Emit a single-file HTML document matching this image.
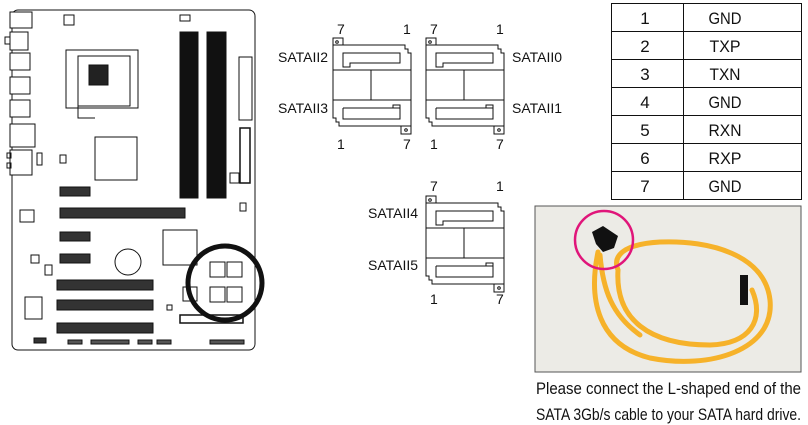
<!DOCTYPE html>
<html><head><meta charset="utf-8"><style>
html,body{margin:0;padding:0;background:#fff;width:808px;height:425px;overflow:hidden}
svg{display:block}
text{font-family:"Liberation Sans",sans-serif;fill:#111}
</style></head><body>
<svg width="808" height="425" viewBox="0 0 808 425" xmlns="http://www.w3.org/2000/svg">
<defs>
<g id="conn" fill="none" stroke="#111" stroke-width="1">
  <rect x="0" y="0" width="10" height="8" fill="#fff"/>
  <circle cx="4" cy="4" r="1.3"/>
  <path d="M0 7 H72 V11 H75 V15 H78 V32 H0 Z" fill="#fff"/>
  <path d="M10 15 H67 V25 H17 V29 H10 Z"/>
  <path d="M0 32 V62 M78 32 V62 M38 32 V62"/>
  <path d="M0 62 H78 V88 H6 V84 H3 V80 H0 Z" fill="#fff"/>
  <path d="M10 70 H67 V67 H60 V70 M10 70 V81 H67 V67"/>
  <rect x="68" y="88" width="10" height="8" fill="#fff"/>
  <circle cx="73" cy="92" r="1.3"/>
</g>
</defs>

<g fill="none" stroke="#111" stroke-width="1">
  <rect x="12" y="10" width="243" height="340" rx="6"/>
  <rect x="10" y="12" width="22" height="16" fill="#fff"/>
  <rect x="10" y="32" width="18" height="18" fill="#fff"/><rect x="5" y="37" width="5" height="7"/>
  <rect x="10" y="53" width="20" height="17" fill="#fff"/>
  <rect x="10" y="77" width="20" height="17" fill="#fff"/>
  <rect x="10" y="100" width="20" height="17" fill="#fff"/>
  <rect x="10" y="124" width="25" height="23" fill="#fff"/>
  <rect x="10" y="150" width="22" height="25" fill="#fff"/>
  <rect x="7" y="153" width="4" height="5"/><rect x="7" y="163" width="4" height="5"/>
  <rect x="37" y="153" width="5" height="12"/>
  <rect x="64" y="15" width="10" height="10"/>
  <rect x="180" y="15" width="10" height="6"/>
  <rect x="66" y="50" width="72" height="58"/>
  <rect x="78" y="56" width="52" height="50"/>
  <rect x="89" y="65" width="19" height="20" fill="#222"/>
  <path d="M78 106 V118 H95"/>
  <rect x="180" y="32" width="18" height="166" fill="#111"/>
  <rect x="207" y="32" width="19" height="166" fill="#111"/>
  <rect x="239" y="57" width="13" height="63"/>
  <rect x="240" y="128" width="10" height="55" stroke-width="1.5"/>
  <rect x="230" y="173" width="9" height="10"/>
  <rect x="240" y="203" width="6" height="8"/>
  <rect x="95" y="137" width="42" height="43"/>
  <rect x="60" y="155" width="6" height="8"/>
  <rect x="60" y="187" width="30" height="9" fill="#333"/>
  <rect x="60" y="208" width="125" height="10" fill="#333"/>
  <rect x="60" y="232" width="30" height="9" fill="#333"/>
  <rect x="60" y="254" width="30" height="9" fill="#333"/>
  <rect x="20" y="210" width="14" height="12"/>
  <rect x="31" y="255" width="8" height="8"/>
  <rect x="45" y="265" width="7" height="10"/>
  <circle cx="128" cy="262" r="13"/>
  <rect x="163" y="230" width="34" height="35"/>
  <rect x="183" y="287" width="14" height="14"/>
  <rect x="57" y="280" width="96" height="10" fill="#333"/>
  <rect x="57" y="300" width="96" height="10" fill="#333"/>
  <rect x="57" y="323" width="96" height="10" fill="#333"/>
  <rect x="25" y="297" width="17" height="22"/>
  <rect x="167" y="305" width="5" height="5"/>
  <rect x="180" y="315" width="63" height="8" stroke-width="1.5"/>
  <rect x="34" y="338" width="12" height="5" fill="#333"/>
  <rect x="68" y="340" width="14" height="4" fill="#555"/>
  <rect x="91" y="340" width="38" height="4" fill="#555"/>
  <rect x="138" y="340" width="14" height="4" fill="#555"/>
  <rect x="157" y="340" width="14" height="4" fill="#555"/>
  <rect x="210" y="340" width="34" height="4" fill="#555"/>
  <rect x="210" y="262" width="15" height="15"/><rect x="227" y="262" width="15" height="15"/>
  <rect x="210" y="287" width="15" height="15"/><rect x="227" y="287" width="15" height="15"/>
  <circle cx="225" cy="283" r="37" stroke-width="5"/>
</g>

<use href="#conn" x="333" y="38"/>
<use href="#conn" x="426" y="38"/>
<use href="#conn" x="426" y="196"/>
<g font-size="14">
  <text x="337" y="34">7</text><text x="403" y="34">1</text>
  <text x="430" y="34">7</text><text x="496" y="34">1</text>
  <text x="278" y="62" textLength="50" lengthAdjust="spacingAndGlyphs">SATAII2</text><text x="512" y="62" textLength="50" lengthAdjust="spacingAndGlyphs">SATAII0</text>
  <text x="278" y="113" textLength="50" lengthAdjust="spacingAndGlyphs">SATAII3</text><text x="512" y="113" textLength="50" lengthAdjust="spacingAndGlyphs">SATAII1</text>
  <text x="337" y="149">1</text><text x="403" y="149">7</text>
  <text x="430" y="149">1</text><text x="496" y="149">7</text>
  <text x="430" y="191">7</text><text x="496" y="191">1</text>
  <text x="368" y="218" textLength="50" lengthAdjust="spacingAndGlyphs">SATAII4</text>
  <text x="368" y="270" textLength="50" lengthAdjust="spacingAndGlyphs">SATAII5</text>
  <text x="430" y="304">1</text><text x="496" y="304">7</text>
</g>

<g fill="none" stroke="#111" stroke-width="1">
  <rect x="611.5" y="3.5" width="190" height="196"/>
  <path d="M683.5 3.5 V199.5 M611.5 31.5 H801.5 M611.5 59.5 H801.5 M611.5 87.5 H801.5 M611.5 115.5 H801.5 M611.5 143.5 H801.5 M611.5 171.5 H801.5"/>
</g>
<g font-size="17" text-anchor="middle">
  <text x="645" y="24">1</text><text x="725" y="24" textLength="33" lengthAdjust="spacingAndGlyphs">GND</text>
  <text x="645" y="52">2</text><text x="725" y="52" textLength="31" lengthAdjust="spacingAndGlyphs">TXP</text>
  <text x="645" y="80">3</text><text x="725" y="80" textLength="31" lengthAdjust="spacingAndGlyphs">TXN</text>
  <text x="645" y="108">4</text><text x="725" y="108" textLength="33" lengthAdjust="spacingAndGlyphs">GND</text>
  <text x="645" y="136">5</text><text x="725" y="136" textLength="33" lengthAdjust="spacingAndGlyphs">RXN</text>
  <text x="645" y="164">6</text><text x="725" y="164" textLength="33" lengthAdjust="spacingAndGlyphs">RXP</text>
  <text x="645" y="192">7</text><text x="725" y="192" textLength="33" lengthAdjust="spacingAndGlyphs">GND</text>
</g>

<rect x="535" y="206" width="266" height="166" fill="#ecebe6" stroke="#555" stroke-width="1"/>
<g fill="none" stroke="#f6b22a" stroke-width="5" stroke-linecap="round">
  <path d="M598 252 C588 300 598 345 650 358 C710 370 775 350 770 300 C765 255 710 240 660 242 C625 244 612 255 618 270"/>
  <path d="M618 270 C615 320 650 345 710 345 C750 344 765 320 752 290"/>
  <path d="M600 255 C603 290 612 315 640 335"/>
</g>
<path d="M592 232 L603 226 L618 236 L614 248 L603 252 L596 244 Z" fill="#111"/>
<rect x="740" y="275" width="8" height="30" fill="#111"/>
<circle cx="604" cy="240" r="29" fill="none" stroke="#e0157a" stroke-width="2.5"/>
<g font-size="17">
  <text x="536" y="394" textLength="265" lengthAdjust="spacingAndGlyphs">Please connect the L-shaped end of the</text>
  <text x="536" y="420" textLength="265" lengthAdjust="spacingAndGlyphs">SATA 3Gb/s cable to your SATA hard drive.</text>
</g>
</svg>
</body></html>
